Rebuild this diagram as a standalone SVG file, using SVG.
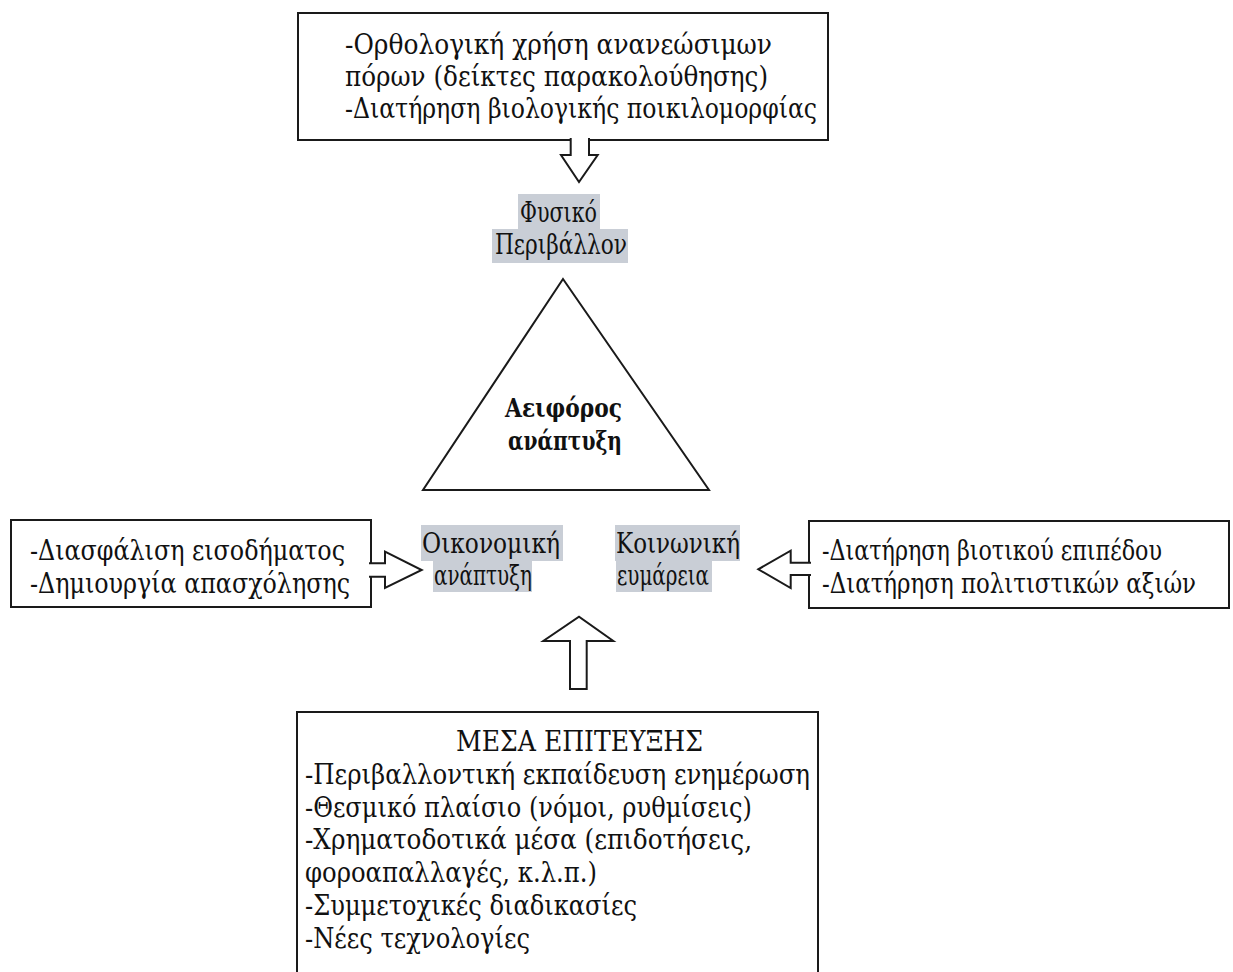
<svg xmlns="http://www.w3.org/2000/svg" width="1233" height="972" viewBox="0 0 1233 972">
<style>
.box{fill:#fff;stroke:#1a1a1a;stroke-width:2}
.arr{fill:#fff;stroke:#1a1a1a;stroke-width:2;stroke-linejoin:miter}
.t{font-family:"DejaVu Serif","Liberation Serif",serif;font-stretch:condensed;font-size:27px;fill:#111}
.b{font-weight:bold;font-size:26px}
.hl{fill:#c9ced6}
</style>
<rect width="1233" height="972" fill="#fff"/>
<g id="top-box">
<rect class="box" x="298" y="13" width="530" height="127"/>
<text class="t" x="345" y="54" textLength="427" lengthAdjust="spacingAndGlyphs">-Ορθολογική χρήση ανανεώσιμων</text>
<text class="t" x="345" y="86" textLength="423" lengthAdjust="spacingAndGlyphs">πόρων (δείκτες παρακολούθησης)</text>
<text class="t" x="345" y="118" textLength="472" lengthAdjust="spacingAndGlyphs">-Διατήρηση βιολογικής ποικιλομορφίας</text>
</g>
<g id="left-box">
<rect class="box" x="11" y="520" width="360" height="87"/>
<text class="t" x="30" y="560" textLength="315" lengthAdjust="spacingAndGlyphs">-Διασφάλιση εισοδήματος</text>
<text class="t" x="30" y="593" textLength="320" lengthAdjust="spacingAndGlyphs">-Δημιουργία απασχόλησης</text>
</g>
<g id="right-box">
<rect class="box" x="809" y="521" width="420" height="87"/>
<text class="t" x="822" y="560" textLength="340" lengthAdjust="spacingAndGlyphs">-Διατήρηση βιοτικού επιπέδου</text>
<text class="t" x="822" y="593" textLength="374" lengthAdjust="spacingAndGlyphs">-Διατήρηση πολιτιστικών αξιών</text>
</g>
<g id="bottom-box">
<path class="box" d="M297,975 V712 H818 V975"/>
<text class="t" x="456" y="751" textLength="247" lengthAdjust="spacingAndGlyphs">ΜΕΣΑ ΕΠΙΤΕΥΞΗΣ</text>
<text class="t" x="305" y="784" textLength="505" lengthAdjust="spacingAndGlyphs">-Περιβαλλοντική εκπαίδευση ενημέρωση</text>
<text class="t" x="305" y="817" textLength="447" lengthAdjust="spacingAndGlyphs">-Θεσμικό πλαίσιο (νόμοι, ρυθμίσεις)</text>
<text class="t" x="305" y="849" textLength="447" lengthAdjust="spacingAndGlyphs">-Χρηματοδοτικά μέσα (επιδοτήσεις,</text>
<text class="t" x="305" y="882" textLength="292" lengthAdjust="spacingAndGlyphs">φοροαπαλλαγές, κ.λ.π.)</text>
<text class="t" x="305" y="915" textLength="332" lengthAdjust="spacingAndGlyphs">-Συμμετοχικές διαδικασίες</text>
<text class="t" x="305" y="948" textLength="225" lengthAdjust="spacingAndGlyphs">-Νέες τεχνολογίες</text>
</g>
<g id="natural-environment">
<rect class="hl" x="518" y="194" width="82" height="35"/>
<rect class="hl" x="492" y="229" width="136" height="34"/>
<text class="t" x="520" y="222" textLength="77" lengthAdjust="spacingAndGlyphs">Φυσικό</text>
<text class="t" x="495" y="254" textLength="132" lengthAdjust="spacingAndGlyphs">Περιβάλλον</text>
</g>
<g id="sustainable-development">
<polygon fill="#fff" stroke="#1a1a1a" stroke-width="2" points="563,279 709,490 423,490"/>
<text class="t b" x="505" y="417" textLength="117" lengthAdjust="spacingAndGlyphs">Αειφόρος</text>
<text class="t b" x="508" y="450" textLength="114" lengthAdjust="spacingAndGlyphs">ανάπτυξη</text>
</g>
<g id="economic-development">
<rect class="hl" x="421" y="525" width="142" height="36"/>
<rect class="hl" x="433" y="561" width="99" height="31"/>
<text class="t" x="422" y="553" textLength="138" lengthAdjust="spacingAndGlyphs">Οικονομική</text>
<text class="t" x="434" y="585" textLength="98" lengthAdjust="spacingAndGlyphs">ανάπτυξη</text>
</g>
<g id="social-welfare">
<rect class="hl" x="615" y="525" width="125" height="36"/>
<rect class="hl" x="616" y="561" width="96" height="31"/>
<text class="t" x="616" y="553" textLength="124" lengthAdjust="spacingAndGlyphs">Κοινωνική</text>
<text class="t" x="617" y="585" textLength="92" lengthAdjust="spacingAndGlyphs">ευμάρεια</text>
</g>
<g id="connectors">
<polyline class="arr" points="570.7,138 570.7,155 561,155 579,182 597.7,155 589,155 589,138"/>
<polyline class="arr" points="369,563.3 385,563.3 385,551.7 421.7,570 385,588 385,576.7 369,576.7"/>
<polyline class="arr" points="811,562.7 790.7,562.7 790.7,550.7 758.3,569.3 790.7,588 790.7,575 811,575"/>
<polygon class="arr" points="570,689 570,641 543.3,641 579,616.7 613.3,641 586.7,641 586.7,689"/>
</g>
</svg>
